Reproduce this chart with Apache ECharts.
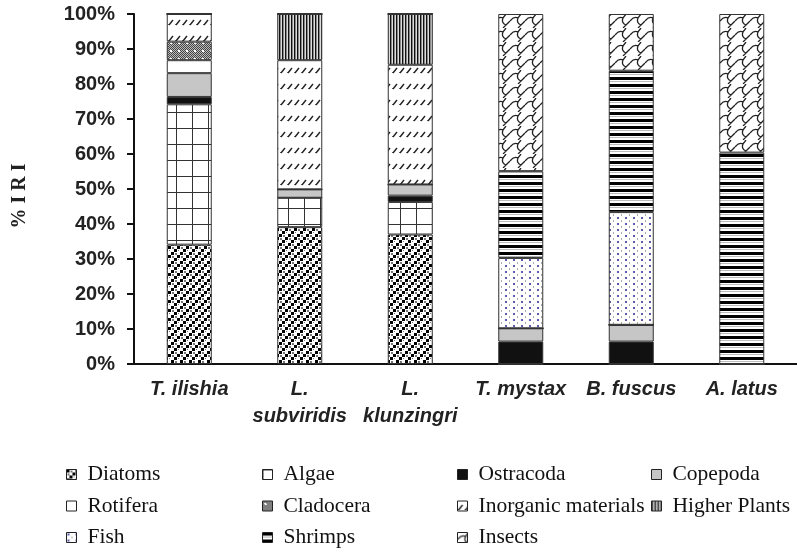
<!DOCTYPE html>
<html><head><meta charset="utf-8">
<script src="https://cdn.jsdelivr.net/npm/echarts@6/dist/echarts.min.js"></script>
<style>html,body{margin:0;padding:0;background:#fff}#c{width:797px;height:552px}</style>
</head><body><div id="c"></div>
<script>
const categories = ['T. ilishia', 'L.\nsubviridis', 'L.\nklunzingri', 'T. mystax', 'B. fuscus', 'A. latus'];
const yTicks = [0, 10, 20, 30, 40, 50, 60, 70, 80, 90, 100];
const diatoms    = [34.1, 39.1, 37.0, 0, 0, 0];
const algae      = [40.1, 8.4, 9.3, 0, 0, 0];
const ostracoda  = [2.1, 0, 1.8, 6.4, 6.4, 0];
const copepoda   = [6.8, 2.4, 3.2, 3.8, 4.8, 0];
const rotifera   = [3.7, 0, 0, 0, 0, 0];
const cladocera  = [5.3, 0, 0, 0, 0, 0];
const inorganic  = [7.9, 36.9, 34.2, 0, 0, 0];
const higherPlants = [0, 13.2, 14.5, 0, 0, 0];
const fish       = [0, 0, 0, 20.1, 32.2, 0];
const shrimps    = [0, 0, 0, 24.8, 40.4, 60.4];
const insects    = [0, 0, 0, 44.9, 16.2, 39.6];
const seriesNames = ['Diatoms', 'Algae', 'Ostracoda', 'Copepoda', 'Rotifera', 'Cladocera',
  'Inorganic materials', 'Higher Plants', 'Fish', 'Shrimps', 'Insects'];
const seriesData = [diatoms, algae, ostracoda, copepoda, rotifera, cladocera,
  inorganic, higherPlants, fish, shrimps, insects];

function pat(w, h, draw) {
  const c = document.createElement('canvas');
  c.width = w; c.height = h;
  const g = c.getContext('2d');
  g.fillStyle = '#fff'; g.fillRect(0, 0, w, h);
  draw(g);
  return { image: c, repeat: 'repeat' };
}
const fills = {
  'Diatoms': pat(9, 9, g => {
    g.fillStyle = '#000';
    g.fillRect(0, 0, 3, 3); g.fillRect(6, 3, 3, 3); g.fillRect(3, 6, 3, 3);
    g.fillStyle = '#777';
    g.fillRect(4, 1, 2, 2); g.fillRect(1, 4, 2, 2); g.fillRect(7, 7, 1, 1);
  }),
  'Algae': pat(16, 16, g => {
    g.fillStyle = '#333'; g.fillRect(0, 0, 16, 1); g.fillRect(0, 0, 1, 16);
  }),
  'Ostracoda': '#111',
  'Copepoda': '#c6c6c6',
  'Rotifera': '#ffffff',
  'Cladocera': pat(8, 8, g => {
    for (let y = 0; y < 8; y++) for (let x = 0; x < 8; x++) {
      g.fillStyle = ((x + y) % 2 === 0) ? '#444' : '#bbb';
      g.fillRect(x, y, 1, 1);
    }
    g.fillStyle = '#fff'; g.fillRect(2, 2, 2, 2);
  }),
  'Inorganic materials': pat(7, 16, g => {
    g.strokeStyle = '#222'; g.lineWidth = 1.4;
    g.beginPath(); g.moveTo(1, 9); g.lineTo(5, 4); g.stroke();
    g.fillStyle = '#555'; g.fillRect(0, 8, 1, 1);
  }),
  'Higher Plants': pat(3, 3, g => {
    g.fillStyle = '#111'; g.fillRect(0, 0, 1, 3);
    g.fillStyle = '#888'; g.fillRect(1, 0, 1, 3);
    g.fillStyle = '#ddd'; g.fillRect(2, 0, 1, 3);
  }),
  'Fish': pat(8, 6, g => {
    g.fillStyle = '#5a5aa8'; g.fillRect(1, 1, 2, 2);
    g.fillStyle = '#aaa'; g.fillRect(5, 4, 1, 2);
  }),
  'Shrimps': pat(2, 7, g => {
    g.fillStyle = '#000'; g.fillRect(0, 0, 2, 3);
    g.fillStyle = '#bbb'; g.fillRect(0, 4, 2, 1);
  }),
  'Insects': pat(15, 14, g => {
    g.strokeStyle = '#222'; g.lineWidth = 1.3;
    g.beginPath();
    g.moveTo(0, 7); g.quadraticCurveTo(4, 2, 8, 4); g.lineTo(11, 0);
    g.moveTo(8, 4); g.quadraticCurveTo(6, 9, 11, 11); g.lineTo(15, 7);
    g.moveTo(11, 11); g.lineTo(8, 14);
    g.stroke();
  })
};

const legendCols = [
  ['Diatoms', 'Rotifera', 'Fish'],
  ['Algae', 'Cladocera', 'Shrimps'],
  ['Ostracoda', 'Inorganic materials', 'Insects'],
  ['Copepoda', 'Higher Plants']
];
const legendLeft = [66, 262, 457, 651];

const chart = echarts.init(document.getElementById('c'), null, { renderer: 'canvas' });
chart.setOption({
  backgroundColor: '#fff',
  animation: false,
  grid: { left: 134, top: 14, width: 670, height: 350, containLabel: false },
  legend: legendCols.map((col, i) => ({
    data: col,
    orient: 'vertical',
    left: legendLeft[i],
    top: 463,
    padding: 0,
    itemGap: 8.5,
    itemWidth: 10,
    itemHeight: 10,
    icon: 'rect',
    itemStyle: { borderColor: '#222', borderWidth: 1 },
    textStyle: { fontFamily: 'Liberation Serif', fontSize: 21.5, color: '#111', lineHeight: 23, padding: [0, 0, 0, 6] }
  })),
  xAxis: {
    type: 'category',
    data: categories,
    axisLine: { lineStyle: { color: '#111', width: 2 } },
    axisTick: { length: 7, lineStyle: { color: '#111', width: 2 } },
    axisLabel: {
      interval: 0,
      margin: 12,
      fontFamily: 'Liberation Sans', fontWeight: 'bold', fontStyle: 'italic',
      fontSize: 20, color: '#222', lineHeight: 27
    }
  },
  yAxis: {
    type: 'value',
    min: 0, max: 100, interval: 10,
    name: '% I R I',
    nameLocation: 'middle',
    nameGap: 104,
    nameTextStyle: { fontFamily: 'Liberation Serif', fontWeight: 'bold', fontSize: 20, color: '#222', padding: [0, 14, 0, 0] },
    splitLine: { show: false },
    axisLine: { show: true, lineStyle: { color: '#111', width: 2 } },
    axisTick: { show: true, length: 7, lineStyle: { color: '#111', width: 2 } },
    axisLabel: {
      margin: 19,
      formatter: v => v + '%',
      fontFamily: 'Liberation Sans', fontWeight: 'bold', fontSize: 20, color: '#222'
    }
  },
  series: seriesNames.map((name, i) => ({
    name: name,
    type: 'bar',
    stack: 'all',
    barWidth: 45,
    data: seriesData[i],
    itemStyle: { color: fills[name], borderColor: '#333', borderWidth: 1 },
    emphasis: { disabled: true }
  }))
});
</script></body></html>
